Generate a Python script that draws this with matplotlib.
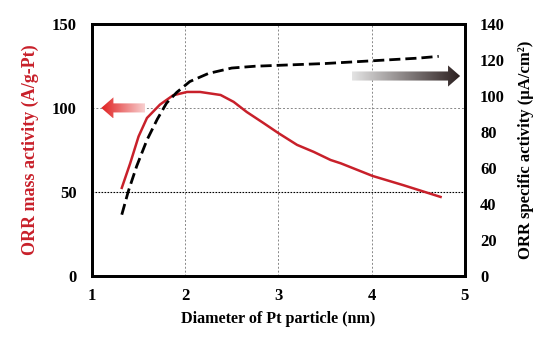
import matplotlib
matplotlib.use("Agg")
import matplotlib.pyplot as plt
from matplotlib.patches import Polygon
from matplotlib.colors import LinearSegmentedColormap
import numpy as np

# Mass activity (left axis, A/g-Pt) vs Pt particle diameter
mass_x = [1.32, 1.41, 1.50, 1.59, 1.73, 1.87, 2.02, 2.16, 2.38, 2.52, 2.66,
          2.84, 3.00, 3.20, 3.38, 3.56, 3.67, 4.01, 4.34, 4.74]
mass_y = [52.4, 67, 83, 94, 102, 107.5, 109.5, 109.5, 107.7, 103.6, 97.6,
          91, 85, 78, 73.8, 69, 67, 59.5, 54, 47]

# Specific activity (right axis, uA/cm2)
spec_x = [1.32, 1.39, 1.48, 1.59, 1.70, 1.80, 1.91, 2.05, 2.25, 2.50, 2.75,
          3.00, 3.50, 4.00, 4.50, 4.72]
spec_y = [34, 47, 61, 75.5, 87, 96, 102, 108, 112.5, 115.5, 116.5,
          117, 118, 119.5, 121, 122]

x_ticks = [1, 2, 3, 4, 5]
left_ticks = [0, 50, 100, 150]
right_ticks = [0, 20, 40, 60, 80, 100, 120, 140]

RED = "#c8202a"
FONT = "Liberation Serif"
plt.rcParams["font.family"] = FONT
plt.rcParams["font.weight"] = "bold"


def gradient_arrow(ax, x_tail, x_tip, y, colors, shaft=2.7, head=6.3, head_len=0.13):
    # arrow outline in data coords, filled with a horizontal gradient
    d = np.sign(x_tip - x_tail)
    xb = x_tip - d * head_len
    verts = [(x_tail, y - shaft), (xb, y - shaft), (xb, y - head), (x_tip, y),
             (xb, y + head), (xb, y + shaft), (x_tail, y + shaft)]
    poly = Polygon(verts, closed=True, facecolor="none", edgecolor="none")
    ax.add_patch(poly)
    cmap = LinearSegmentedColormap.from_list("g", colors)
    grad = np.linspace(0, 1, 256).reshape(1, -1)
    x0, x1 = min(x_tail, x_tip), max(x_tail, x_tip)
    if d < 0:
        grad = grad[:, ::-1]
    im = ax.imshow(grad, cmap=cmap, extent=[x0, x1, y - head, y + head],
                   aspect="auto", zorder=3, interpolation="bilinear")
    im.set_clip_path(poly)


fig = plt.figure(figsize=(5.54, 3.47), dpi=100)
ax = fig.add_axes([0.166, 0.205, 0.673, 0.726])
ax2 = ax.twinx()

# grid
for gx in [2, 3, 4]:
    ax.axvline(gx, color="#888888", lw=0.7, ls=(0, (2, 2)), zorder=1)
ax.axhline(100, color="#888888", lw=0.7, ls=(0, (2, 2)), zorder=1)
ax.axhline(50, color="black", lw=0.8, ls=(0, (1.5, 1.2)), zorder=1)

ax.plot(mass_x, mass_y, color=RED, lw=1.8, zorder=4)
ax2.plot(spec_x, spec_y, color="black", lw=2.0, ls=(0, (4, 1.8)))

gradient_arrow(ax, 1.57, 1.10, 100, ["#f8d0d0", "#e02020"])
gradient_arrow(ax, 3.79, 4.95, 119, ["#e4e4e4", "#2a1e1e"])

ax.set_xlim(1, 5)
ax.set_ylim(0, 150)
ax2.set_ylim(0, 140)
ax.set_xticks(x_ticks)
ax.set_yticks(left_ticks)
ax2.set_yticks(right_ticks)

for a in (ax, ax2):
    a.tick_params(length=0, labelsize=12)
    for s in a.spines.values():
        s.set_linewidth(2)
ax.tick_params(axis="y", pad=11)
ax.tick_params(axis="x", pad=9)
ax2.tick_params(axis="y", pad=11)
for lab in ax.get_xticklabels() + ax.get_yticklabels() + ax2.get_yticklabels():
    lab.set_fontweight("bold")

ax.set_xlabel("Diameter of Pt particle (nm)", fontsize=11.6, fontweight="bold", labelpad=5)
ax.set_ylabel("ORR mass activity (A/g-Pt)", fontsize=13, fontweight="bold",
              color=RED, labelpad=9)
ax2.set_ylabel("ORR specific activity (\u03bcA/cm\u00b2)", fontsize=12,
               fontweight="bold", labelpad=9)

fig.savefig("out.png", dpi=100)
